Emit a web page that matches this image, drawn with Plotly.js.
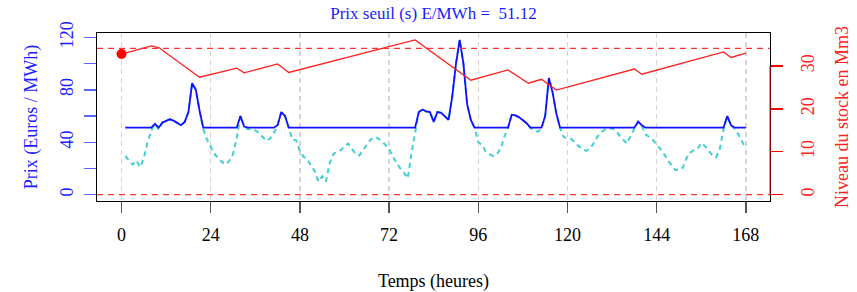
<!DOCTYPE html>
<html>
<head>
<meta charset="utf-8">
<script src="https://cdn.plot.ly/plotly-3.0.1.min.js"></script>
<style>html,body{margin:0;padding:0;background:#fff;}#chart{width:857px;height:292px;}</style>
</head>
<body>
<div id="chart"></div>
<script>
// ---- data ----
const seuil = 51.12;                      // prix seuil (s) E/MWh
const xTicks = [0, 24, 48, 72, 96, 120, 144, 168];
// hourly price, hours 1..168
const prix = [
  29.5, 26, 23, 26, 21, 28, 40, 49, 54, 49.5,
  55, 56.5, 57.5, 56.5, 54.5, 53, 55.5, 63, 85, 80,
  64, 50, 42, 36, 31, 28, 25, 23, 26, 31,
  43, 60, 52, 50, 50, 49, 47, 44, 41, 43,
  47, 53, 63, 60, 50, 42, 41.5, 33, 29, 27,
  22, 18, 10, 14, 10, 24, 31, 33, 34, 37,
  39, 35, 31, 30, 34, 38, 42, 44, 43, 41,
  38, 35, 29, 25, 20, 17, 12.5, 31, 46, 63,
  65, 63.5, 63, 55.5, 63, 62.5, 60, 57, 75, 100,
  118, 100, 69, 57, 51, 40, 38, 33, 31, 29.5,
  31, 35, 44, 51, 61, 60.5, 59, 56.5, 54.5, 51,
  49, 48, 50, 60, 89, 78, 62, 51, 44, 43,
  42.5, 40, 37, 35, 33.5, 35, 39, 44, 47.5, 49.5,
  50.5, 50.5, 49, 45, 41.7, 39, 45, 51, 55.7, 53,
  46, 44, 41.7, 38, 35, 31, 26, 22.6, 18.8, 19,
  20.5, 27.7, 32, 34, 35, 39.5, 37, 33.5, 30, 28.5,
  35, 50, 60, 53, 50, 46, 40, 35
];
// stock level (Mm3) at its turning points
const stockHeures = [0, 8, 10, 21, 31, 33, 42, 45, 79, 94, 104, 109.5, 113, 117, 138, 140, 162, 164, 168];
const stockNiveau = [32.8, 34.7, 34.3, 27.4, 29.5, 28.4, 30.5, 28.5, 36.1, 26.7, 29.1, 26.0, 26.9, 24.4, 29.3, 28.1, 33.3, 32.0, 33.0];
const stockLimites = [0, 34.1];
const stockInitial = [32.8];

// ---- derived ----
const heures = prix.map((_, i) => i + 1);
const prixSeuil = prix.map(p => Math.max(p, seuil));

const serif = 'Liberation Serif, "Times New Roman", Times, serif';
const traces = [
  {x: heures, y: prix, type: 'scatter', mode: 'lines',
   line: {color: '#3fcfd3', width: 2, dash: '5px,4px'}, hoverinfo: 'skip'},
  {x: heures, y: prixSeuil, type: 'scatter', mode: 'lines',
   line: {color: '#1010ff', width: 1.8}},
  {x: stockHeures, y: stockNiveau, type: 'scatter', mode: 'lines', yaxis: 'y2',
   line: {color: '#ff2020', width: 1.3}},
  {x: [0], y: stockInitial, type: 'scatter', mode: 'markers', yaxis: 'y2',
   marker: {color: '#ff0000', size: 10}}
];

const shapes = stockLimites.map(v => ({
  type: 'line', xref: 'paper', x0: 0, x1: 1, yref: 'y2', y0: v, y1: v,
  line: {color: '#ff3030', width: 1.2, dash: '6px,5px'}
}));
shapes.push({type: 'line', xref: 'paper', x0: 1, x1: 1, yref: 'y2', y0: 0, y1: 30,
  line: {color: '#ff0000', width: 1}});

const layout = {
  width: 857, height: 292,
  margin: {l: 97, r: 87, t: 33, b: 91, pad: 0},
  paper_bgcolor: '#ffffff', plot_bgcolor: '#ffffff',
  showlegend: false,
  font: {family: serif, size: 18, color: '#000'},
  title: {text: 'Prix seuil (s) E/MWh =  51.12', font: {family: serif, size: 17, color: '#1a1aff'},
          x: 0.5, xref: 'paper', xanchor: 'center', y: 1 - 13/292, yref: 'container', yanchor: 'middle'},
  xaxis: {
    range: [-6.6, 174.5], tickmode: 'array', tickvals: xTicks,
    ticks: 'outside', ticklen: 11, tickwidth: 1.5, tickcolor: '#555',
    tickfont: {family: serif, size: 18, color: '#000'}, ticklabelstandoff: 6,
    showline: true, mirror: true, linecolor: '#000', linewidth: 1,
    showgrid: true, gridcolor: '#d4d4d4', gridwidth: 1.5, griddash: '5px,4px',
    zeroline: false,
    title: {text: 'Temps (heures)', font: {family: serif, size: 18, color: '#000'}, standoff: 30}
  },
  yaxis: {
    range: [-4.8, 123.3], tickmode: 'linear', tick0: 0, dtick: 40,
    ticks: 'outside', ticklen: 12, tickwidth: 1.5, tickcolor: '#5a64ff', tickangle: -90,
    tickfont: {family: serif, size: 18, color: '#1a1aff'}, ticklabelstandoff: 4,
    minor: {tick0: 0, dtick: 20, ticks: 'outside', ticklen: 12, tickwidth: 1.5, tickcolor: '#5a64ff', showgrid: false},
    showline: true, mirror: true, linecolor: '#000', linewidth: 1,
    showgrid: false, zeroline: false,
    title: {text: 'Prix (Euros / MWh)', font: {family: serif, size: 18, color: '#1a1aff'}, standoff: 14}
  },
  yaxis2: {
    overlaying: 'y', side: 'right',
    range: [-1.47, 37.7], tickmode: 'array', tickvals: [0, 10, 20, 30],
    ticks: 'outside', ticklen: 12, tickwidth: 1.2, tickcolor: '#ff0000', tickangle: -90,
    tickfont: {family: serif, size: 18, color: '#ff2020'}, ticklabelstandoff: 9,
    showline: false, showgrid: false, zeroline: false,
    title: {text: 'Niveau du stock en Mm3', font: {family: serif, size: 18, color: '#ff2020'}, standoff: 18}
  },
  shapes: shapes
};

Plotly.newPlot('chart', traces, layout, {displayModeBar: false, staticPlot: true});
</script>
</body>
</html>
